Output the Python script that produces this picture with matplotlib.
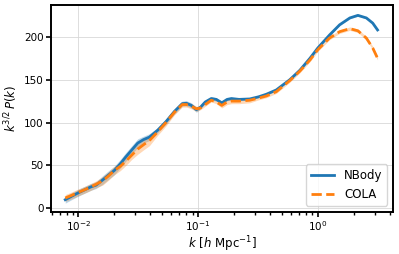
import matplotlib
matplotlib.use("Agg")
import matplotlib.pyplot as plt
import numpy as np

k = [0.0078, 0.0088, 0.01, 0.0115, 0.0128, 0.0141, 0.016, 0.018, 0.02, 0.0225,
     0.025, 0.028, 0.0314, 0.035, 0.0393, 0.046, 0.054, 0.0636, 0.0738, 0.08,
     0.088, 0.097, 0.105, 0.115, 0.129, 0.142, 0.158, 0.175, 0.19, 0.22,
     0.27, 0.32, 0.372, 0.45, 0.584, 0.708, 0.86, 1.0, 1.25, 1.52,
     1.85, 2.16, 2.54, 2.87, 3.15]
nbody = [10, 14, 18, 22, 25, 27, 33, 39, 44, 52,
         60, 68, 76, 80, 83, 91, 101, 113, 122, 122.5,
         120, 115, 118, 124, 128, 127, 123, 127, 128, 127,
         127.5, 130, 133, 138, 150, 161, 175, 187, 202, 214,
         222, 225, 222, 216, 208]
cola = [12, 15, 18.5, 22, 25, 28, 32, 38, 44, 49,
        55, 62, 69, 74, 79, 89, 100, 112, 121, 121,
        119, 116, 117, 121, 126, 124, 120, 124, 125, 125,
        126, 128.5, 131, 136, 149, 160, 173, 185, 198.5, 206,
        209.5, 207, 198.5, 187, 175]
nbody_err = [4, 4, 4, 4, 4, 4, 5, 5, 5, 5,
             5, 5, 5, 4, 4, 3, 3, 3, 3, 3,
             3, 3, 2, 2, 2, 2, 2, 1.5, 1.5, 1.5,
             1, 1, 1, 1, 1, 1, 1, 1, 1, 1,
             1, 1, 1, 1, 1]
cola_err = [4, 4, 4, 4, 4, 4, 5, 5, 5, 5,
            5, 5, 6, 6, 6, 4, 4, 3, 3, 3,
            3, 3, 2, 2, 2, 2, 3, 3, 3, 3,
            3, 2, 2, 2, 2, 2, 2, 2, 2, 2,
            2, 2, 2, 2, 2]

k = np.array(k)
nbody = np.array(nbody)
cola = np.array(cola)
nbody_err = np.array(nbody_err)
cola_err = np.array(cola_err)

fig = plt.figure(figsize=(3.99, 2.54), dpi=100)
ax = fig.add_axes([0.128, 0.1665, 0.857, 0.8135])

ax.fill_between(k, nbody - nbody_err, nbody + nbody_err, color='C0', alpha=0.3, lw=0)
ax.fill_between(k, cola - cola_err, cola + cola_err, color='C1', alpha=0.3, lw=0)
ax.plot(k, nbody, color='C0', lw=2, label='NBody')
ax.plot(k, cola, color='C1', lw=2, ls='--', label='COLA')

ax.set_xscale('log')
ax.set_xlim(0.00594, 4.24)
ax.set_ylim(-4, 237)
ax.set_yticks([0, 50, 100, 150, 200])
ax.grid(True, color='#d8d8d8', lw=0.6)
ax.set_axisbelow(True)

for s in ax.spines.values():
    s.set_linewidth(1.4)
ax.tick_params(which='major', length=3.5, width=1.2, labelsize=7.5, pad=2)
ax.tick_params(which='minor', length=2.5, width=1.0)

ax.set_xlabel(r'$k\ [h\ \mathrm{Mpc}^{-1}]$', fontsize=8.5, labelpad=1)
ax.set_ylabel(r'$k^{3/2}\,P(k)$', fontsize=8.5, labelpad=3)
ax.legend(loc='lower right', fontsize=8.5)

fig.savefig('out.png', dpi=100)
